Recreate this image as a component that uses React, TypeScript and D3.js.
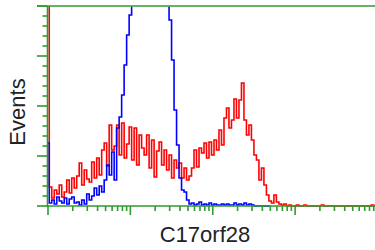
import React from "react";
import * as d3 from "d3";

const BINS_PER_DECADE = 33;
const DECADES = [1, 10, 100, 1000, 10000];
const MINOR_MULTS = [2, 3, 4, 5, 6, 7, 8, 9];
const Y_TICKS = [0, 10, 20, 30, 40, 50, 60, 70, 80, 90, 100, 110, 120, 130, 140, 150, 160, 170, 180, 190, 200];
const X_LABEL = "C17orf28";
const Y_LABEL = "Events";

const RED_COUNTS = [
  250, 19, 8, 16, 12, 21, 9, 14, 26, 13, 28, 18, 30, 43, 21, 36, 27, 24, 44, 28,
  48, 31, 56, 63, 40, 81, 56, 60, 81, 51, 83, 48, 62, 79, 46, 78, 41, 71, 58, 51,
  71, 38, 66, 29, 55, 64, 41, 56, 36, 51, 28, 46, 38, 43, 28, 38, 26, 30, 38, 56,
  39, 58, 53, 63, 48, 64, 51, 66, 56, 76, 61, 88, 98, 78, 86, 107, 88, 106, 123, 86,
  71, 81, 66, 51, 46, 26, 38, 21, 11, 5, 3, 11, 4, 2, 1, 2, 0, 1, 0, 0,
  1, 0, 0, 1, 0, 0, 0, 0, 0, 0, 1, 0, 0, 0, 0, 0, 0, 0, 0, 0,
  0, 0, 0, 0, 0, 0, 0, 0, 0, 0, 1, 0,
];

const BLUE_COUNTS = [
  63, 3, 6, 2, 9, 5, 3, 8, 2, 7, 9, 3, 4, 1, 6, 2, 12, 6, 10, 18,
  11, 20, 14, 26, 41, 31, 54, 26, 78, 89, 111, 141, 171, 191, 230, 260, 280, 300, 310, 320,
  325, 320, 310, 300, 290, 275, 260, 245, 215, 186, 146, 96, 61, 28, 16, 14, 6, 2, 3, 1,
  2, 4, 1, 2, 1, 3, 1, 2, 1, 1, 2, 1, 2, 1, 1, 3, 1, 2, 1, 3,
  1, 2, 1, 0, 0, 0, 0, 0, 0, 0,
];

const GREEN = "#2f9a2f";

export default function App() {
  const width = 375;
  const height = 250;
  const x = d3.scaleLog().domain([1, 10000]).range([48, 377.5]);
  const y = d3.scaleLinear().domain([0, 200]).range([206, 6]);

  const channel = (i: number) => Math.pow(10, i / BINS_PER_DECADE);
  const line = d3
    .line<number>()
    .x((_, i) => x(channel(i)))
    .y((v) => y(v))
    .curve(d3.curveStep);

  const minorX: number[] = [];
  DECADES.slice(0, -1).forEach((d) => MINOR_MULTS.forEach((m) => minorX.push(d * m)));

  return (
    <svg
      width={width}
      height={height}
      style={{ position: "absolute", left: 0, top: 0, background: "#fff" }}
    >
      <defs>
        <clipPath id="plotclip">
          <rect x={40} y={6.5} width={340} height={201} />
        </clipPath>
      </defs>
      <g clipPath="url(#plotclip)" fill="none" strokeWidth={1.6}>
        <path d={line(RED_COUNTS) || ""} stroke="#ff0000" />
        <path d={line(BLUE_COUNTS) || ""} stroke="#0000ff" />
      </g>
      <g stroke={GREEN} strokeWidth={1.6}>
        <line x1={47.5} x2={47.5} y1={y(200)} y2={y(0) + 1} />
        <line x1={37} x2={width} y1={y(200)} y2={y(200)} />
        <line x1={47} x2={width} y1={y(0)} y2={y(0)} />
        {Y_TICKS.map((t) => (
          <line
            key={"y" + t}
            x1={t % 50 === 0 ? 37 : 42.5}
            x2={47.5}
            y1={y(t)}
            y2={y(t)}
          />
        ))}
        {DECADES.map((d) => (
          <line key={"xd" + d} x1={x(d)} x2={x(d)} y1={y(0)} y2={y(0) + 9} />
        ))}
        {minorX.map((d) => (
          <line key={"xm" + d} x1={x(d)} x2={x(d)} y1={y(0)} y2={y(0) + 5} />
        ))}
      </g>
      <text
        x={205}
        y={242}
        textAnchor="middle"
        fontFamily="Liberation Sans, Arial, sans-serif"
        fontSize={22}
        fill="#222"
      >
        {X_LABEL}
      </text>
      <text
        transform="translate(25,112) rotate(-90)"
        textAnchor="middle"
        fontFamily="Liberation Sans, Arial, sans-serif"
        fontSize={22}
        fill="#222"
      >
        {Y_LABEL}
      </text>
    </svg>
  );
}
